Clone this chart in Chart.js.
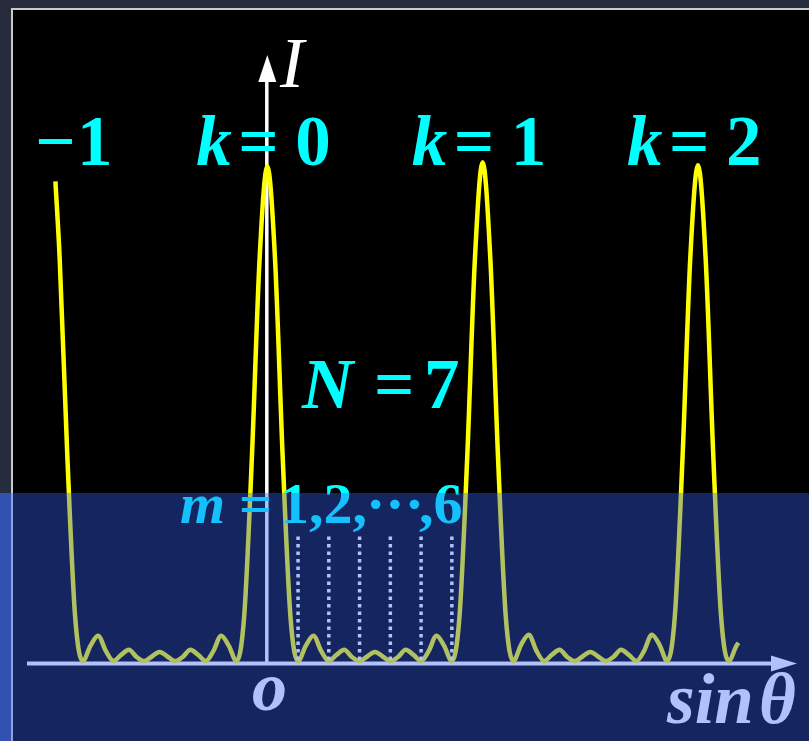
<!DOCTYPE html>
<html>
<head>
<meta charset="utf-8">
<script src="https://cdn.jsdelivr.net/npm/chart.js@4.4.0/dist/chart.umd.min.js"></script>
<style>
    html, body { margin: 0; padding: 0; }
    body { width: 809px; height: 741px; background: #262c3c; position: relative; overflow: hidden; }
    #frame { position: absolute; left: 11px; top: 8px; right: 0; bottom: 0; background: #000; border-left: 2px solid #cacaca; border-top: 2px solid #cacaca; }
    #chart { position: absolute; left: 0; top: 0; }
    #band { position: absolute; left: 11px; top: 493px; right: 0; bottom: 0; background: rgba(54, 95, 246, 0.39); }
    #bandEdge { position: absolute; left: 0; top: 493px; width: 11px; bottom: 0; background: #3152b1; }
</style>
</head>
<body>
<div id="frame"></div>
<canvas id="chart" width="809" height="741"></canvas>
<div id="bandEdge"></div>
<div id="band"></div>

<script>
// Grating pattern, N = 7 slits: sin(theta) in units of lambda/d, intensity in units of I0
const sinTheta = [
    -0.984, -0.9643, -0.9286, -0.8929, -0.8571, -0.8214, -0.7857, -0.75, -0.7143,
    -0.6786, -0.6429, -0.6071, -0.5714, -0.5357, -0.5, -0.4643, -0.4286, -0.3929,
    -0.3571, -0.3214, -0.2857, -0.25, -0.2143, -0.1786, -0.1429, -0.1071, -0.0714,
    -0.0357, 0,
    0.0357, 0.0714, 0.1071, 0.1429, 0.1786, 0.2143, 0.25, 0.2857, 0.3214, 0.3571,
    0.3929, 0.4286, 0.4643, 0.5, 0.5357, 0.5714, 0.6071, 0.6429, 0.6786, 0.7143,
    0.75, 0.7857, 0.8214, 0.8571, 0.8929, 0.9286, 0.9643, 1,
    1.0357, 1.0714, 1.1071, 1.1429, 1.1786, 1.2143, 1.25, 1.2857, 1.3214, 1.3571,
    1.3929, 1.4286, 1.4643, 1.5, 1.5357, 1.5714, 1.6071, 1.6429, 1.6786, 1.7143,
    1.75, 1.7857, 1.8214, 1.8571, 1.8929, 1.9286, 1.9643, 2,
    2.0357, 2.0714, 2.1071, 2.1429, 2.1786, 2.188
];
const intensity = [
    47.4, 39.8, 20.2, 4.5, 0, 1.5, 2.5, 1.0, 0,
    0.6, 1.1, 0.4, 0, 0.45, 0.9, 0.45, 0, 0.4,
    1.1, 0.6, 0, 1.0, 2.5, 1.5, 0, 4.5, 20.2,
    39.8, 48.9,
    39.8, 20.2, 4.5, 0, 1.5, 2.5, 1.0, 0, 0.6, 1.1,
    0.4, 0, 0.45, 0.9, 0.45, 0, 0.4, 1.1, 0.6, 0,
    1.0, 2.5, 1.5, 0, 4.5, 20.2, 39.8, 49.3,
    39.8, 20.2, 4.5, 0, 1.6, 2.6, 1.0, 0, 0.6, 1.1,
    0.4, 0, 0.45, 0.9, 0.45, 0, 0.4, 1.1, 0.6, 0,
    1.0, 2.6, 1.6, 0, 4.5, 20.2, 39.8, 49.0,
    39.8, 20.2, 4.5, 0, 1.5, 1.8
];

const slitCount = 7;
const minimaOrders = [1, 2, 3, 4, 5, 6];
const minimaMarkTop = 12.3;
const principalOrders = [0, 1, 2];

const FONT = '"Liberation Serif", "Times New Roman", serif';

// Draw a run of glyph pieces, each at its own x offset
function drawPieces(ctx, x0, y, size, pieces, color) {
    ctx.fillStyle = color;
    ctx.textBaseline = 'alphabetic';
    ctx.textAlign = 'left';
    pieces.forEach(p => {
        ctx.font = (p.italic ? 'italic ' : '') + 'bold ' + size + 'px ' + FONT;
        ctx.fillText(p.text, x0 + p.dx, y);
    });
}

const axesPlugin = {
    id: 'axesArrows',
    beforeDatasetsDraw(chart) {
        const ctx = chart.ctx;
        const x = chart.scales.x;
        const y = chart.scales.y;
        const ox = x.getPixelForValue(0) - 0.5;
        const oy = y.getPixelForValue(0) + 2.5;

        ctx.save();
        ctx.strokeStyle = '#ffffff';
        ctx.fillStyle = '#ffffff';

        // horizontal axis
        ctx.lineWidth = 4;
        ctx.beginPath();
        ctx.moveTo(27, oy);
        ctx.lineTo(775, oy);
        ctx.stroke();
        ctx.beginPath();
        ctx.moveTo(797, oy);
        ctx.lineTo(771, oy - 8);
        ctx.lineTo(771, oy + 8);
        ctx.closePath();
        ctx.fill();

        // vertical axis
        ctx.lineWidth = 3.5;
        ctx.beginPath();
        ctx.moveTo(ox, oy);
        ctx.lineTo(ox, 80);
        ctx.stroke();
        ctx.beginPath();
        ctx.moveTo(ox + 0.5, 55);
        ctx.lineTo(ox - 8.5, 82);
        ctx.lineTo(ox + 9.5, 82);
        ctx.closePath();
        ctx.fill();
        ctx.restore();
    },
    afterDraw(chart) {
        const ctx = chart.ctx;
        const x = chart.scales.x;
        ctx.save();

        // axis names
        ctx.fillStyle = '#ffffff';
        ctx.font = 'italic 72px ' + FONT;
        ctx.fillText('I', 280, 87);
        drawPieces(ctx, 0, 710, 70, [{ text: 'o', italic: true, dx: 252 }], '#ffffff');
        drawPieces(ctx, 0, 723, 71, [
            { text: 'sin', italic: true, dx: 667 },
            { text: 'θ', italic: true, dx: 759 }
        ], '#ffffff');

        // principal maxima
        const cyan = '#00ffff';
        drawPieces(ctx, 0, 165, 71, [
            { text: '\u2212', dx: 35 },
            { text: '1', dx: 77 }
        ], cyan);
        principalOrders.forEach(k => {
            const c = x.getPixelForValue(k);
            drawPieces(ctx, c, 165, 71, [
                { text: 'k', italic: true, dx: -71 },
                { text: '=', dx: -29 },
                { text: String(k), dx: 28 }
            ], cyan);
        });

        drawPieces(ctx, 0, 408, 71, [
            { text: 'N', italic: true, dx: 302 },
            { text: '=', dx: 374 },
            { text: String(slitCount), dx: 424 }
        ], cyan);

        drawPieces(ctx, 0, 523, 58, [
            { text: 'm', italic: true, dx: 180 },
            { text: '=', dx: 239 },
            { text: minimaOrders.slice(0, 2).join(',') + ',', dx: 280 },
            { text: '\u00b7\u00b7\u00b7', dx: 366 },
            { text: ',' + minimaOrders[minimaOrders.length - 1], dx: 419 }
        ], cyan);

        ctx.restore();
    }
};

const minimaSets = minimaOrders.map(m => ({
    data: [
        { x: m / slitCount, y: minimaMarkTop },
        { x: m / slitCount, y: 0 }
    ],
    borderColor: '#ffffff',
    borderWidth: 3.5,
    borderDash: [3.5, 4],
    borderCapStyle: 'butt',
    pointRadius: 0,
    fill: false,
    clip: false,
    order: 0
}));

new Chart(document.getElementById('chart'), {
    type: 'line',
    data: {
        datasets: [
            {
                data: sinTheta.map((s, i) => ({ x: s, y: intensity[i] })),
                borderColor: '#ffff00',
                borderWidth: 4.5,
                pointRadius: 0,
                cubicInterpolationMode: 'monotone',
                fill: false,
                clip: false,
                order: 1
            },
            ...minimaSets
        ]
    },
    options: {
        responsive: false,
        animation: false,
        events: [],
        layout: { padding: { left: 27, right: 12, top: 54, bottom: 80 } },
        plugins: {
            legend: { display: false },
            tooltip: { enabled: false }
        },
        scales: {
            x: { type: 'linear', min: -1.116, max: 2.46, display: false },
            y: { type: 'linear', min: 0, max: 60, display: false }
        }
    },
    plugins: [axesPlugin]
});
</script>
</body>
</html>
